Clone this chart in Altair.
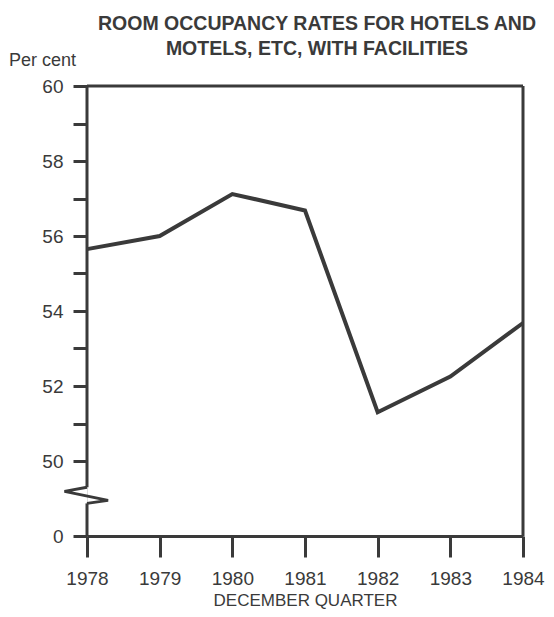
import altair as alt
import pandas as pd

# ---- data ----
years = [1978, 1979, 1980, 1981, 1982, 1983, 1984]
rates = [55.65, 56.0, 57.12, 56.68, 51.3, 52.25, 53.68]

# y positions: the axis is broken; value 0 is drawn at position 48
zero_pos = 48
y_tick_values = [48, 50, 51, 52, 53, 54, 55, 56, 57, 58, 59, 60]
# axis break (zig-zag) in axis units
break_x = [1978, 1978.29, 1977.69, 1978]
break_y = [48.87, 48.95, 49.19, 49.30]
axis_segments_lo = [48, 49.30]
axis_segments_hi = [48.87, 60]

title_lines = ["ROOM OCCUPANCY RATES FOR HOTELS AND", "MOTELS, ETC, WITH FACILITIES"]
y_unit = "Per cent"
x_title = "DECEMBER QUARTER"

# ---- style ----
W, H = 436, 450
ink = "#3a3a3a"
font = "Liberation Sans"

xs = alt.Scale(domain=[1978, 1984], nice=False, zero=False)
ys = alt.Scale(domain=[48, 60], nice=False, zero=False)

df = pd.DataFrame({"year": years, "rate": rates})
df_break = pd.DataFrame({"x": break_x, "y": break_y, "i": list(range(len(break_x)))})
df_axis = pd.DataFrame({"x": [1978, 1978], "y": axis_segments_lo, "y2": axis_segments_hi})
df_top = pd.DataFrame({"x": [1978], "x2": [1984], "y": [60]})
df_right = pd.DataFrame({"x": [1984], "y": [48], "y2": [60]})
df_unit = pd.DataFrame({"t": [y_unit]})

line = alt.Chart(df).mark_line(color=ink, strokeWidth=4, strokeJoin="miter").encode(
    x=alt.X("year:Q", scale=xs, axis=alt.Axis(
        values=years, format="d", tickSize=21, tickWidth=3, tickColor=ink,
        domainColor=ink, domainWidth=3, labelFontSize=19, labelColor=ink,
        labelFont=font, labelPadding=12, labelFlush=False, grid=False,
        title=x_title, titleFontSize=17, titleFontWeight="normal",
        titleFont=font, titleColor=ink, titlePadding=4)),
    y=alt.Y("rate:Q", scale=ys, axis=alt.Axis(
        values=y_tick_values, tickSize=14, tickWidth=3, tickColor=ink,
        domain=False, labelFontSize=19, labelColor=ink, labelFont=font,
        labelPadding=10, grid=False, labelFlush=False,
        labelExpr="datum.value == 48 ? '0' : (datum.value % 2 == 0 ? datum.label : '')",
        title=None)),
)

yaxis = alt.Chart(df_axis).mark_rule(color=ink, strokeWidth=3).encode(
    x=alt.X("x:Q", scale=xs),
    y=alt.Y("y:Q", scale=ys),
    y2="y2:Q",
)

zig = alt.Chart(df_break).mark_line(color=ink, strokeWidth=3, strokeJoin="miter").encode(
    x=alt.X("x:Q", scale=xs),
    y=alt.Y("y:Q", scale=ys),
    order="i:Q",
)

top = alt.Chart(df_top).mark_rule(color=ink, strokeWidth=3).encode(
    x=alt.X("x:Q", scale=xs),
    x2="x2:Q",
    y=alt.Y("y:Q", scale=ys),
)

right = alt.Chart(df_right).mark_rule(color=ink, strokeWidth=3).encode(
    x=alt.X("x:Q", scale=xs),
    y=alt.Y("y:Q", scale=ys),
    y2="y2:Q",
)

unit = alt.Chart(df_unit).mark_text(
    align="left", baseline="alphabetic", fontSize=18, font=font, color=ink
).encode(x=alt.value(-78), y=alt.value(-20), text="t:N")

chart = alt.layer(line, yaxis, zig, top, right, unit).properties(
    width=W, height=H,
    autosize=alt.AutoSizeParams(type="none"),
    padding={"left": 79, "top": 78, "right": 23, "bottom": 73},
    title=alt.TitleParams(
        text=title_lines, fontSize=19.5, fontWeight="bold", font=font, color=ink,
        lineHeight=25, anchor="middle", dx=12, offset=-7),
).configure_view(stroke=None).configure(background="white")

chart.save("out.html", embed_options={"renderer": "svg", "actions": False})
